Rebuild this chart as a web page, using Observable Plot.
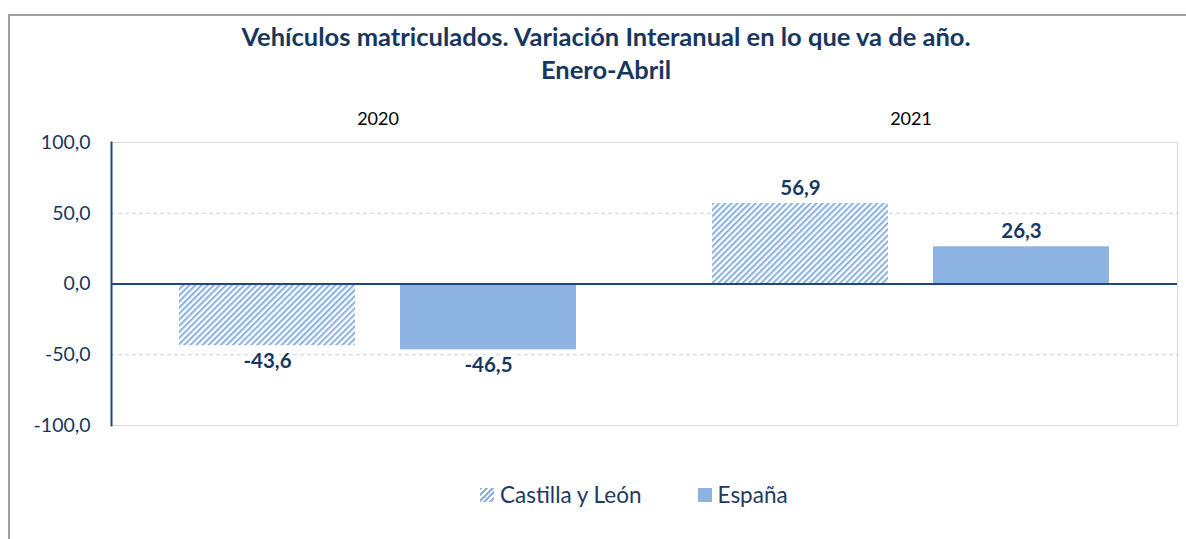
<!DOCTYPE html>
<html>
<head>
<meta charset="utf-8">
<script src="https://cdn.jsdelivr.net/npm/d3@7"></script>
<script src="https://cdn.jsdelivr.net/npm/@observablehq/plot@0.6"></script>
<style>
  html, body { margin: 0; padding: 0; background: #fff; width: 1186px; height: 539px; overflow: hidden; font-family: Lato, "Open Sans", sans-serif; }
  #frame { position: absolute; left: 8px; top: 14px; width: 1250px; height: 600px; border: 2px solid #A0A0A0; box-sizing: border-box; }
  #title { position: absolute; left: 0; top: 20px; width: 1212px; text-align: center; font-weight: bold; font-size: 25.5px; line-height: 33px; color: #17375E; }
  #chart { position: absolute; left: 0; top: 90px; }
  #legend { position: absolute; left: 480px; top: 481px; display: flex; align-items: center; font-size: 22.5px; color: #1F3864; white-space: nowrap; }
  .sw { width: 14px; height: 14px; margin-right: 6px; }
  .sw.hatch { background: repeating-linear-gradient(135deg, #8DB3E2 0 2px, #fff 2px 4px); }
  .sw.solid { background: #8DB3E2; }
  .item { display: flex; align-items: center; }
</style>
</head>
<body>
<div id="frame"></div>
<div id="title">Vehículos matriculados. Variación Interanual en lo que va de año.<br>Enero-Abril</div>
<div id="chart"></div>
<div id="legend"></div>
<script>
const years = ["2020", "2021"];
const regions = ["Castilla y León", "España"];
const castillaLeon = [-43.6, 56.9];
const espana = [-46.5, 26.3];
const yTicks = [-100, -50, 0, 50, 100];
const dashedGrid = [50, -50];
const solidGrid = [100, -100];

const data = years.flatMap((yr, i) => [
  {year: yr, region: regions[0], value: castillaLeon[i]},
  {year: yr, region: regions[1], value: espana[i]}
]);

const fmt = v => v.toFixed(1).replace(".", ",");
const darkBlue = "#17375E";
const barBlue = "#8DB3E2";
const labelStyle = {
  fx: "year", x: "region", y: "value", text: d => fmt(d.value),
  fontSize: 20.5, fontWeight: "bold", fill: darkBlue,
  stroke: "white", strokeWidth: 6, paintOrder: "stroke"
};

const chart = Plot.plot({
  width: 1186,
  height: 360,
  marginTop: 52,
  marginBottom: 25,
  marginLeft: 111,
  marginRight: 9,
  style: {fontFamily: "Lato, 'Open Sans', sans-serif", background: "transparent"},
  fx: {domain: years, padding: 0, axis: null},
  x: {domain: regions, paddingInner: 0.203, paddingOuter: 0.302, axis: null},
  y: {domain: [-100, 100], axis: null},
  marks: [
    Plot.ruleY(dashedGrid, {stroke: "#D0D0D0", strokeDasharray: "4,3"}),
    Plot.ruleY(solidGrid, {stroke: "#D9D9D9"}),
    Plot.frame({anchor: "right", facetAnchor: "right", stroke: "#D9D9D9"}),
    Plot.barY(data, {filter: d => d.region === regions[0], fx: "year", x: "region", y: "value", fill: "url(#hatch)"}),
    Plot.barY(data, {filter: d => d.region === regions[1], fx: "year", x: "region", y: "value", fill: barBlue}),
    Plot.ruleY([0], {stroke: "#1F497D", strokeWidth: 2}),
    Plot.frame({anchor: "left", facetAnchor: "left", stroke: "#1F497D", strokeWidth: 2}),
    Plot.axisY({ticks: yTicks, tickSize: 0, tickPadding: 21, tickFormat: fmt, fontSize: 19.5, fill: darkBlue, label: null}),
    Plot.text(data, {...labelStyle, filter: d => d.value >= 0, dy: -15}),
    Plot.text(data, {...labelStyle, filter: d => d.value < 0, dy: 16}),
    Plot.text(years, {fx: d => d, text: d => d, frameAnchor: "top", dy: -30, fontSize: 18, fill: "#000"})
  ]
});

// hatch pattern definition
const svg = d3.select(chart.tagName.toLowerCase() === "svg" ? chart : chart.querySelector("svg"));
const defs = svg.insert("defs", ":first-child");
const pat = defs.append("pattern")
  .attr("id", "hatch")
  .attr("patternUnits", "userSpaceOnUse")
  .attr("width", 4.3)
  .attr("height", 4.3)
  .attr("patternTransform", "rotate(45)");
pat.append("rect").attr("width", 4.3).attr("height", 4.3).attr("fill", "#fff");
pat.append("rect").attr("width", 2.1).attr("height", 4.3).attr("fill", barBlue);

document.getElementById("chart").appendChild(chart);

const legend = d3.select("#legend");
regions.forEach((r, i) => {
  const it = legend.append("div").attr("class", "item").style("margin-right", i === 0 ? "56px" : "0");
  it.append("div").attr("class", "sw " + (i === 0 ? "hatch" : "solid"));
  it.append("span").text(r);
});
</script>
</body>
</html>
